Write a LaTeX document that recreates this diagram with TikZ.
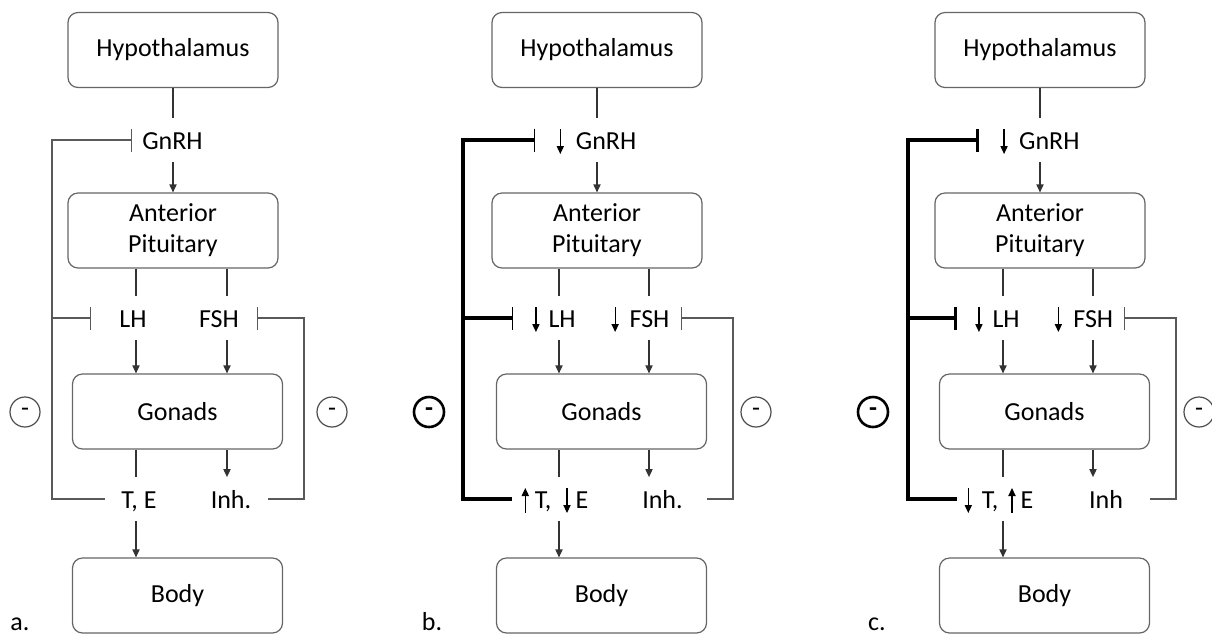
\documentclass[tikz,border=0pt]{standalone}
\usepackage{fontspec}
\setmainfont{Carlito}
\usetikzlibrary{arrows.meta}
\newcommand{\dnarr}{\tikz[baseline=0pt]\draw[line width=0.6pt,-{Triangle[length=4pt,width=3.6pt]}] (0,10pt) -- (0,-2.5pt);}
\newcommand{\uparr}{\tikz[baseline=0pt]\draw[line width=0.6pt,-{Triangle[length=4pt,width=3.6pt]}] (0,-2.5pt) -- (0,10pt);}
\begin{document}
\begin{tikzpicture}[x=0.5pt,y=-0.5pt,
  box/.style={draw=black!60, line width=0.6pt, rounded corners=5pt, minimum width=105pt, minimum height=37.5pt, align=center, font=\fontsize{13}{15.6}\selectfont},
  hormone/.style={inner xsep=0pt, inner ysep=5.25pt, text height=10pt, text depth=1pt, font=\fontsize{13}{15.6}\selectfont},
  sign/.style={circle, draw=black!70, line width=0.6pt, minimum size=15pt, inner sep=0pt, font=\fontsize{13}{15.6}\selectfont},
  strong/.style={draw=black, line width=1.3pt, font=\fontsize{13}{15.6}\selectfont\bfseries},
  tag/.style={anchor=base, inner sep=0pt, font=\fontsize{13}{15.6}\selectfont},
  link/.style={draw=black!80, line width=0.6pt},
  stim/.style={link, -{Triangle[length=4pt,width=3.6pt]}},
  fb/.style={draw=black!65, line width=0.6pt},
  fbbold/.style={draw=black, line width=1.6pt},
  blk/.style={arrows={{Bar[width=11.5pt]}-}},
  blkthin/.style={arrows={{Bar[width=11.5pt,line width=0.6pt]}-}}]
\useasboundingbox (0,0) rectangle (1212,634);

\node[hormone] (gnrhA) at (172.5,140) {GnRH};
\node[hormone] (lhA) at (133,318) {LH};
\node[hormone] (fshA) at (219,318) {FSH};
\node[hormone] (teA) at (139,499) {T, E};
\node[hormone] (inhA) at (231,499) {Inh.};

\node[hormone] (gnrhB) at (596.5,140) {\dnarr\hspace{6pt}GnRH};
\node[hormone] (lhB) at (554,318) {\dnarr\hspace{4.5pt}LH};
\node[hormone] (fshB) at (640.5,318) {\dnarr\hspace{5.5pt}FSH};
\node[hormone] (teB) at (555,499) {\uparr\hspace{3pt}T,\hspace{6pt}\dnarr\hspace{2.5pt}E};
\node[hormone] (inhB) at (662.5,499) {Inh.};

\node[hormone] (gnrhC) at (1040,140) {\dnarr\hspace{5.75pt}GnRH};
\node[hormone] (lhC) at (997.5,318) {\dnarr\hspace{5pt}LH};
\node[hormone] (fshC) at (1084,318) {\dnarr\hspace{5.75pt}FSH};
\node[hormone] (teC) at (999,499) {\dnarr\hspace{5pt}T,\hspace{5pt}\uparr\hspace{2.5pt}E};
\node[hormone] (inhC) at (1106,499) {Inh};

\foreach \x/\colL/\colF/\p in {173/136/227/A,597/559/649/B,1040/1003/1093/C} {
  \node[box] (hyp\p) at (\x,50) {Hypothalamus};
  \node[box] (ant\p) at (\x,230.5) {Anterior\\Pituitary};
  \node[box] (gon\p) at (\x+4.5,411.5) {Gonads};
  \node[box] (body\p) at (\x+4.5,595.5) {Body};
  \draw[link] (hyp\p.south) -- (hyp\p.south |- gnrh\p.north);
  \draw[stim] (hyp\p.south |- gnrh\p.south) -- (ant\p.north);
  \draw[link] (ant\p.south -| \colL,0) -- (\colL,0 |- lh\p.north);
  \draw[link] (ant\p.south -| \colF,0) -- (\colF,0 |- fsh\p.north);
  \draw[stim] (\colL,0 |- lh\p.south) -- (gon\p.north -| \colL,0);
  \draw[stim] (\colF,0 |- fsh\p.south) -- (gon\p.north -| \colF,0);
  \draw[link] (gon\p.south -| \colL,0) -- (\colL,0 |- te\p.north);
  \draw[stim] (gon\p.south -| \colF,0) -- (\colF,0 |- inh\p.north);
  \draw[stim] (\colL,0 |- te\p.south) -- (body\p.north -| \colL,0);
}

\node[sign] (negLA) at (25,412) {-};
\node[sign] (negRA) at (332,412) {-};
\draw[fb,blk] (132,0 |- gnrhA) -| (52,0 |- teA) -- (105,0 |- teA);
\draw[fb,blk] (91,0 |- lhA) -- (52,0 |- lhA);
\draw[fb,blk] (257,0 |- fshA) -| (304,0 |- inhA) -- (268,0 |- inhA);
\node[tag] (tagA) at (20,630) {a.};

\node[sign,strong] (negLB) at (429,412) {-};
\node[sign] (negRB) at (756,412) {-};
\draw[fbbold,blkthin] (535,0 |- gnrhB) -| (463,0 |- teB) -- (512,0 |- teB);
\draw[fbbold,blkthin] (513,0 |- lhB) -- (463,0 |- lhB);
\draw[fb,blk] (681,0 |- fshB) -| (733,0 |- inhB) -- (707,0 |- inhB);
\node[tag] (tagB) at (432,630) {b.};

\node[sign,strong] (negLC) at (873,412) {-};
\node[sign] (negRC) at (1199,412) {-};
\draw[fbbold,blk] (979,0 |- gnrhC) -| (908,0 |- teC) -- (957,0 |- teC);
\draw[fbbold,blk] (957,0 |- lhC) -- (908,0 |- lhC);
\draw[fb,blk] (1124,0 |- fshC) -| (1176,0 |- inhC) -- (1150,0 |- inhC);
\node[tag] (tagC) at (877,630) {c.};
\end{tikzpicture}
\end{document}
